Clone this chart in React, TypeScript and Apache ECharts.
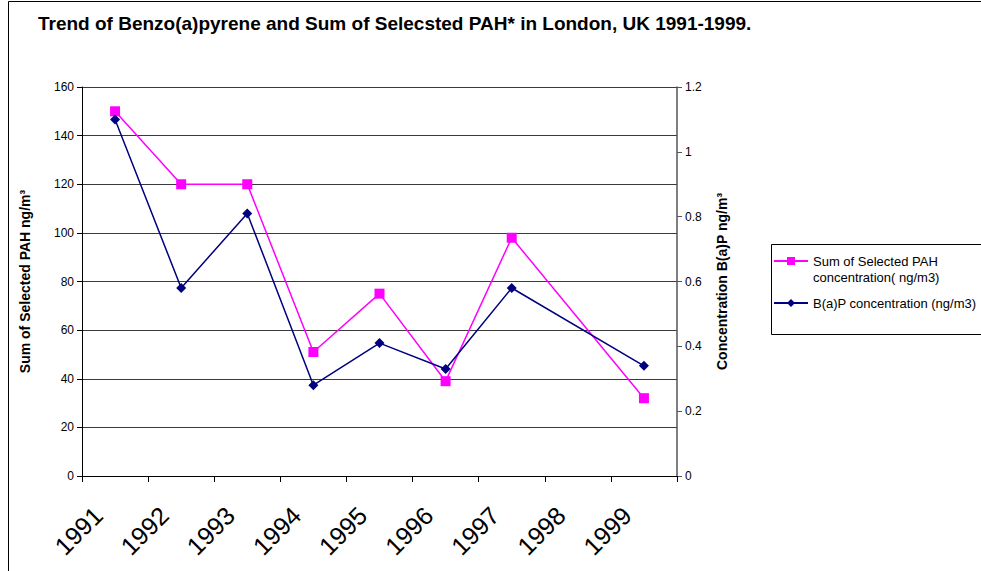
import React, { useEffect, useRef } from "react";
import * as echarts from "echarts";

const years = ["1991", "1992", "1993", "1994", "1995", "1996", "1997", "1998", "1999"];
const sumPAH = [150, 120, 120, 51, 75, 39, 98, null, 32];
const bapConc = [1.1, 0.58, 0.81, 0.28, 0.41, 0.33, 0.58, null, 0.34];
const leftTicks = { min: 0, max: 160, interval: 20 };
const rightTicks = { min: 0, max: 1.2, interval: 0.2 };

const PAH_NAME = "Sum of Selected PAH\nconcentration( ng/m3)";
const BAP_NAME = "B(a)P concentration (ng/m3)";

const FONT = "'Liberation Sans', Arial, sans-serif";

export default function App() {
  const ref = useRef<HTMLDivElement>(null);
  useEffect(() => {
    if (!ref.current) return;
    const chart = echarts.init(ref.current, null, { renderer: "svg" });
    chart.setOption({
      animation: false,
      backgroundColor: "#ffffff",
      textStyle: { fontFamily: FONT },
      title: {
        text: "Trend of Benzo(a)pyrene and Sum of Selecsted PAH* in London, UK 1991-1999.",
        left: 33,
        top: 9,
        textStyle: { fontFamily: FONT, fontSize: 19, fontWeight: "bold", color: "#000" },
      },
      graphic: [
        {
          type: "rect",
          shape: { x: 8.5, y: 1.5, width: 1000, height: 600 },
          style: { fill: "none", stroke: "#000", lineWidth: 1 },
          silent: true,
        },
        {
          type: "rect",
          shape: { x: 771.5, y: 244.5, width: 300, height: 90 },
          style: { fill: "#fff", stroke: "#000", lineWidth: 1 },
          silent: true,
          z: -1,
        },
      ],
      legend: {
        orient: "vertical",
        left: 773,
        top: 237,
        padding: 0,
        itemWidth: 34,
        itemHeight: 10,
        itemGap: 10,
        formatter: (name: string) => {
          if (name === PAH_NAME) {
            return "{b| }\n{a|Sum of Selected PAH}\n{a|concentration( ng/m3)}";
          }
          return "{a|" + name + "}";
        },
        textStyle: {
          fontFamily: FONT,
          fontSize: 13,
          color: "#000",
          lineHeight: 16,
          rich: {
            a: { fontFamily: FONT, fontSize: 13, color: "#000", lineHeight: 16 },
            b: { fontFamily: FONT, fontSize: 13, color: "#000", lineHeight: 16 },
          },
        },
        data: [{ name: PAH_NAME }, { name: BAP_NAME }],
      },
      grid: { left: 82, right: 304, top: 87, bottom: 95, containLabel: false },
      xAxis: {
        type: "category",
        data: years,
        boundaryGap: true,
        axisLine: { lineStyle: { color: "#000", width: 1 } },
        axisTick: { show: true, length: 6, lineStyle: { color: "#000" } },
        axisLabel: {
          rotate: 45,
          fontSize: 25,
          color: "#000",
          fontFamily: FONT,
          margin: 18,
          padding: [0, 24, 0, 0],
          interval: 0,
        },
        splitLine: { show: false },
      },
      yAxis: [
        {
          type: "value",
          min: leftTicks.min,
          max: leftTicks.max,
          interval: leftTicks.interval,
          name: "Sum of Selected PAH ng/m³",
          nameLocation: "middle",
          nameGap: 50,
          nameRotate: 90,
          nameTextStyle: { fontFamily: FONT, fontSize: 14, fontWeight: "bold", color: "#000" },
          axisLine: { show: true, lineStyle: { color: "#000", width: 1 } },
          axisTick: { show: true, length: 5, lineStyle: { color: "#000" } },
          axisLabel: { fontSize: 12, color: "#000", margin: 8, fontFamily: FONT },
          splitLine: { show: true, lineStyle: { color: "#3a3a3a", width: 1 } },
        },
        {
          type: "value",
          min: rightTicks.min,
          max: rightTicks.max,
          interval: rightTicks.interval,
          position: "right",
          name: "Concentration B(a)P ng/m³",
          nameLocation: "middle",
          nameGap: 38,
          nameRotate: 90,
          nameTextStyle: { fontFamily: FONT, fontSize: 14, fontWeight: "bold", color: "#000" },
          axisLine: { show: true, lineStyle: { color: "#555", width: 1.5 } },
          axisTick: { show: true, length: 5, lineStyle: { color: "#555" } },
          axisLabel: { fontSize: 12, color: "#000", margin: 8, fontFamily: FONT },
          splitLine: { show: false },
        },
      ],
      series: [
        {
          name: PAH_NAME,
          type: "line",
          yAxisIndex: 0,
          data: sumPAH,
          connectNulls: true,
          symbol: "rect",
          symbolSize: 10,
          lineStyle: { color: "#ff00ff", width: 1.5 },
          itemStyle: { color: "#ff00ff" },
          z: 3,
        },
        {
          name: BAP_NAME,
          type: "line",
          yAxisIndex: 1,
          data: bapConc,
          connectNulls: true,
          symbol: "diamond",
          symbolSize: 10,
          lineStyle: { color: "#000080", width: 1.5 },
          itemStyle: { color: "#000080" },
          z: 4,
        },
      ],
    });
    return () => chart.dispose();
  }, []);
  return (
    <div
      ref={ref}
      style={{ position: "fixed", left: 0, top: 0, width: 981, height: 571 }}
    />
  );
}
